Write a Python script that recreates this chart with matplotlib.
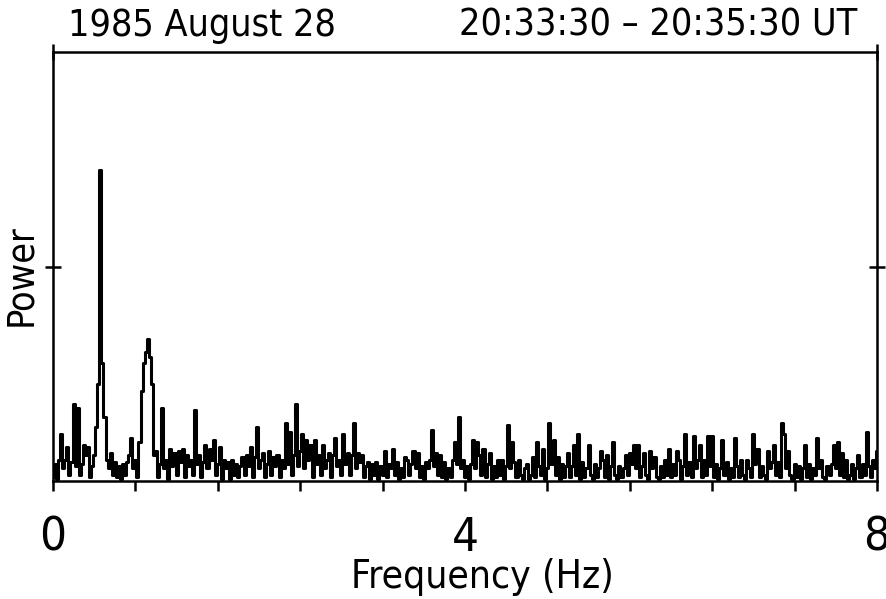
import matplotlib
matplotlib.use("Agg")
import matplotlib.pyplot as plt
from matplotlib import font_manager as fm
import numpy as np

# look for a narrow regular sans face, the original lettering is very condensed
narrow = None
for f in fm.fontManager.ttflist:
    if f.weight not in (400, 'normal', 'regular', 'book') or f.style != 'normal':
        continue
    if 'Sans' in f.name and (f.stretch in ('condensed', 'semi-condensed')
                             or 'Narrow' in f.name or 'Condensed' in f.name):
        narrow = f.fname
        break
if narrow:
    font = fm.FontProperties(fname=narrow)
else:
    font = fm.FontProperties(family='Liberation Sans')

# power spectrum, 0.02 Hz bins, one list per Hz
hz0 = [0.02, 0.08, 0.01, 0.10, 0.22, 0.06, 0.10, 0.16, 0.03, 0.09,
       0.36, 0.07, 0.34, 0.03, 0.08, 0.17, 0.12, 0.16, 0.02, 0.07,
       0.12, 0.25, 0.45, 1.45, 0.55, 0.30, 0.10, 0.06, 0.13, 0.03,
       0.09, 0.02, 0.07, 0.01, 0.08, 0.03, 0.09, 0.12, 0.20, 0.06,
       0.10, 0.02, 0.18, 0.42, 0.55, 0.60, 0.66, 0.58, 0.45, 0.12]
hz1 = [0.14, 0.02, 0.08, 0.34, 0.06, 0.10, 0.01, 0.15, 0.07, 0.13,
       0.03, 0.14, 0.09, 0.15, 0.02, 0.12, 0.07, 0.10, 0.03, 0.33,
       0.08, 0.12, 0.02, 0.09, 0.17, 0.06, 0.15, 0.10, 0.19, 0.03,
       0.08, 0.16, 0.01, 0.10, 0.06, 0.09, 0.01, 0.10, 0.03, 0.08,
       0.02, 0.07, 0.11, 0.03, 0.12, 0.07, 0.16, 0.02, 0.11, 0.25]
hz2 = [0.06, 0.10, 0.13, 0.02, 0.08, 0.14, 0.03, 0.11, 0.07, 0.12,
       0.02, 0.10, 0.06, 0.27, 0.08, 0.23, 0.03, 0.12, 0.36, 0.07,
       0.14, 0.22, 0.06, 0.19, 0.10, 0.17, 0.02, 0.19, 0.08, 0.12,
       0.03, 0.17, 0.06, 0.10, 0.13, 0.02, 0.12, 0.20, 0.07, 0.10,
       0.03, 0.22, 0.08, 0.13, 0.03, 0.12, 0.27, 0.06, 0.13, 0.09]
hz3 = [0.12, 0.02, 0.07, 0.09, 0.01, 0.08, 0.03, 0.09, 0.01, 0.07,
       0.03, 0.14, 0.02, 0.08, 0.06, 0.15, 0.03, 0.09, 0.01, 0.06,
       0.02, 0.11, 0.10, 0.03, 0.08, 0.14, 0.06, 0.13, 0.02, 0.07,
       0.01, 0.09, 0.06, 0.10, 0.24, 0.07, 0.13, 0.03, 0.12, 0.02,
       0.09, 0.01, 0.06, 0.02, 0.10, 0.18, 0.08, 0.30, 0.06, 0.10]
hz4 = [0.02, 0.07, 0.01, 0.08, 0.19, 0.06, 0.18, 0.12, 0.03, 0.15,
       0.02, 0.08, 0.13, 0.01, 0.07, 0.02, 0.10, 0.03, 0.10, 0.01,
       0.07, 0.26, 0.06, 0.18, 0.09, 0.02, 0.10, 0.03, 0.01, 0.06,
       0.08, 0.01, 0.03, 0.11, 0.02, 0.18, 0.07, 0.03, 0.15, 0.01,
       0.06, 0.27, 0.08, 0.19, 0.03, 0.11, 0.01, 0.08, 0.02, 0.07]
hz5 = [0.13, 0.02, 0.07, 0.17, 0.03, 0.22, 0.01, 0.09, 0.02, 0.06,
       0.17, 0.03, 0.01, 0.08, 0.02, 0.06, 0.14, 0.10, 0.02, 0.12,
       0.01, 0.07, 0.18, 0.03, 0.01, 0.07, 0.02, 0.06, 0.12, 0.03,
       0.13, 0.08, 0.17, 0.06, 0.17, 0.02, 0.07, 0.13, 0.03, 0.01,
       0.14, 0.06, 0.11, 0.02, 0.01, 0.07, 0.02, 0.10, 0.03, 0.15]
hz6 = [0.02, 0.08, 0.03, 0.14, 0.10, 0.01, 0.07, 0.22, 0.03, 0.09,
       0.02, 0.21, 0.06, 0.10, 0.17, 0.02, 0.10, 0.03, 0.21, 0.07,
       0.21, 0.02, 0.08, 0.01, 0.06, 0.19, 0.03, 0.09, 0.01, 0.06,
       0.02, 0.20, 0.07, 0.02, 0.10, 0.03, 0.01, 0.10, 0.06, 0.02,
       0.22, 0.08, 0.15, 0.02, 0.07, 0.03, 0.01, 0.14, 0.06, 0.09]
hz7 = [0.17, 0.03, 0.09, 0.02, 0.27, 0.22, 0.06, 0.14, 0.03, 0.01,
       0.08, 0.02, 0.07, 0.01, 0.06, 0.17, 0.02, 0.08, 0.01, 0.06,
       0.03, 0.20, 0.06, 0.10, 0.02, 0.01, 0.07, 0.03, 0.08, 0.17,
       0.06, 0.18, 0.03, 0.13, 0.02, 0.10, 0.01, 0.03, 0.08, 0.01,
       0.06, 0.12, 0.02, 0.08, 0.03, 0.23, 0.07, 0.02, 0.10, 0.06,
       0.14]

power = np.array(hz0 + hz1 + hz2 + hz3 + hz4 + hz5 + hz6 + hz7)
freq = np.arange(len(power)) * 0.02

xticks = [0, 0.8, 1.6, 2.4, 3.2, 4.0, 4.8, 5.6, 6.4, 7.2, 8.0]
xlabels = ['0', '', '', '', '', '4', '', '', '', '', '8']

fig = plt.figure(figsize=(8.86, 5.99), dpi=100)
ax = fig.add_axes([0.0598, 0.197, 0.930, 0.716])

ax.plot(freq, power, color='black', lw=2.2, drawstyle='steps-mid')
ax.set_xlim(0, 8)
ax.set_ylim(0, 2)

for s in ax.spines.values():
    s.set_linewidth(1.8)

ax.set_xticks(xticks)
ax.set_xticklabels(xlabels, fontproperties=font, fontsize=34)
ax.set_yticks([1])
ax.set_yticklabels([])
ax.tick_params(axis='x', direction='out', length=7, width=1.8, pad=18)
ax.tick_params(axis='y', direction='inout', length=12, width=1.8,
               right=True, left=True)

top = ax.secondary_xaxis('top')
top.set_xticks([0, 8])
top.set_xticklabels([])
top.tick_params(direction='inout', length=12, width=1.8)
top.spines['top'].set_visible(False)

fig.text(0.545, 0.037, 'Frequency (Hz)', fontproperties=font, fontsize=28,
         ha='center', va='center')
fig.text(0.024, 0.54, 'Power', fontproperties=font, fontsize=27,
         rotation=90, ha='center', va='center')

fig.text(0.077, 0.957, '1985 August 28', fontproperties=font, fontsize=27,
         ha='left', va='center')
fig.text(0.968, 0.957, '20:33:30 \u2013 20:35:30 UT', fontproperties=font,
         fontsize=27, ha='right', va='center')

fig.savefig('out.png', dpi=100)
